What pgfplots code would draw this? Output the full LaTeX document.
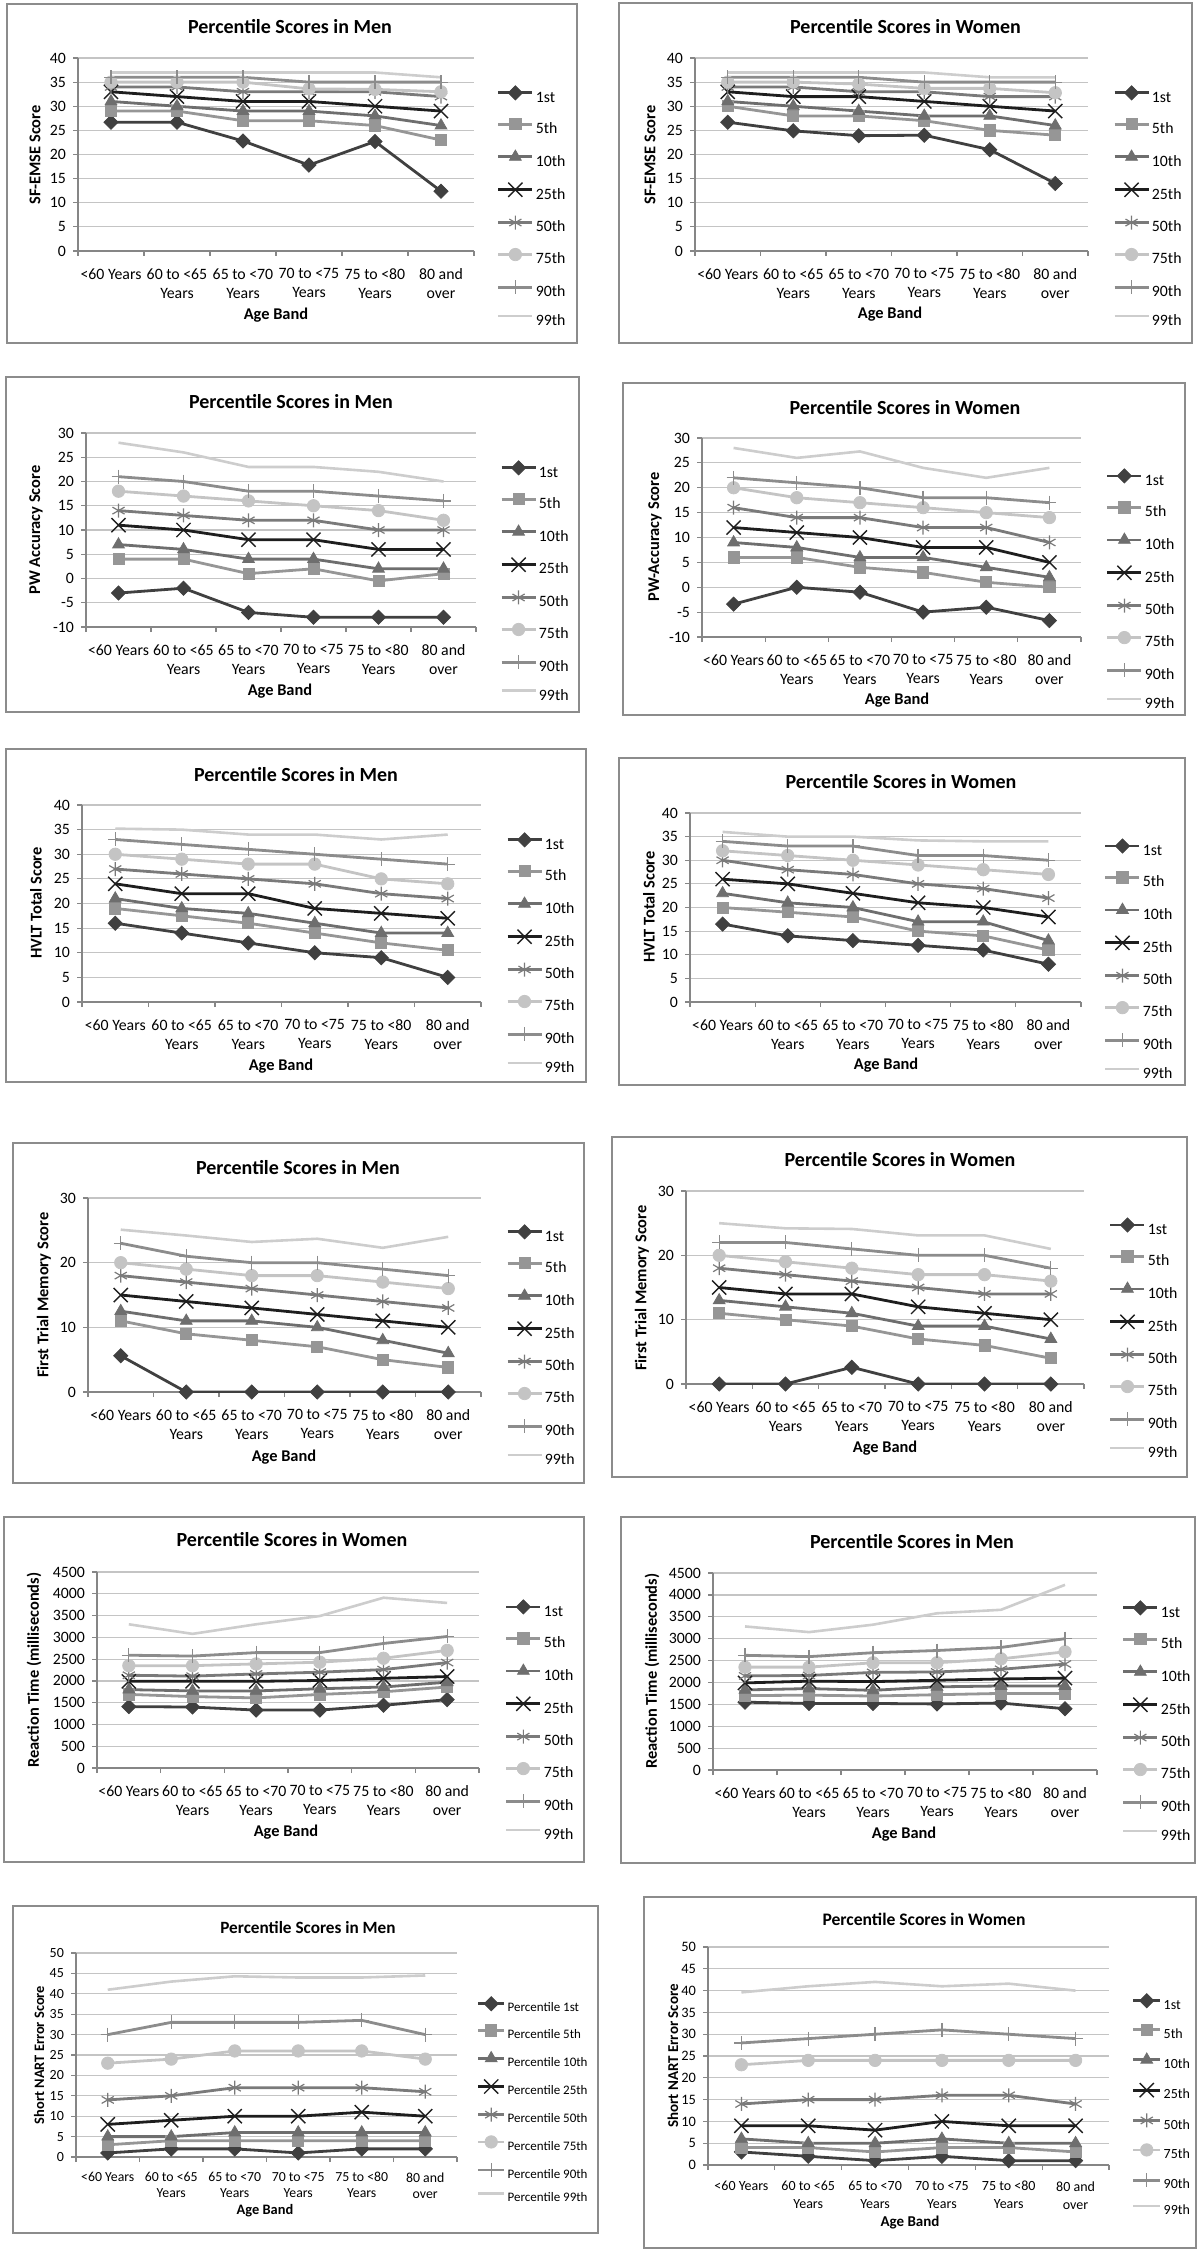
\documentclass[border=0pt]{standalone}
\usepackage{pgfplots}
\pgfplotsset{compat=1.18}
\usepackage{pgfplotstable}
\usepackage{fontspec}
\setmainfont{Carlito}

\definecolor{axc}{HTML}{868686}
\definecolor{grc}{HTML}{C4C4C4}
\definecolor{frc}{HTML}{8C8C8C}
\definecolor{c1}{HTML}{404040}
\definecolor{c5}{HTML}{969696}
\definecolor{c10}{HTML}{6E6E6E}
\definecolor{c25}{HTML}{1E1E1E}
\definecolor{c50}{HTML}{7A7A7A}
\definecolor{c75}{HTML}{C4C4C4}
\definecolor{c90}{HTML}{8C8C8C}
\definecolor{c99}{HTML}{CDCDCD}

\newcommand{\tkf}{\fontsize{7.9}{9.5}\selectfont}
\newcommand{\lgf}{\fontsize{7.9}{9.5}\selectfont}
\newcommand{\ttf}{\bfseries\fontsize{10}{12}\selectfont}
\newcommand{\lbf}{\bfseries\fontsize{8.2}{9.5}\selectfont}

\pgfplotsset{
  base/.style={
    scale only axis, anchor=south west,
    axis lines*=left,
    axis line style={draw=axc, line width=0.6pt},
    xmin=-0.5, xmax=5.5,
    xtick={-0.5,0.5,1.5,2.5,3.5,4.5,5.5},
    x tick label as interval,
    xticklabels={{<60 Years},{60 to <65\\Years},{65 to <70\\Years},{70 to <75\\Years},{75 to <80\\Years},{80 and\\over}},
    tick align=outside,
    major tick length=2.5pt,
    tick style={draw=axc, line width=0.6pt},
    ymajorgrids,
    grid style={draw=grc, line width=0.6pt},
    scaled y ticks=false,
    /pgf/number format/assume math mode=true,
    /pgf/number format/1000 sep={},
    yticklabel style={font=\tkf},
    xticklabel style={font=\tkf, align=center, yshift=-2.7pt},
    legend cell align=left,
    legend style={draw=none, fill=none, inner sep=0pt, outer sep=0pt, anchor=north west,
      row sep=6.75pt, column sep=1pt,
      nodes={inner sep=0pt, font=\lgf, text height=6pt, text depth=1.5pt}},
    legend image code/.code={\draw[mark repeat=2,mark phase=2,##1] plot coordinates {(0pt,2.4pt) (8.5pt,2.4pt) (17pt,2.4pt)};},
  },
  s1/.style={color=c1, line width=1.4pt, mark=square*, mark size=2.5pt, mark options={solid, rotate=45, line width=0.4pt}},
  s5/.style={color=c5, line width=1.4pt, mark=square*, mark size=2.8pt, mark options={solid, line width=0.4pt}},
  s10/.style={color=c10, line width=1.4pt, mark=triangle*, mark size=3.4pt, mark options={solid, line width=0.4pt}},
  s25/.style={color=c25, line width=1.4pt, mark=x, mark size=5pt, mark options={solid, line width=0.7pt}},
  s50/.style={color=c50, line width=1.4pt, mark=asterisk, mark size=3.5pt, mark options={solid, line width=0.6pt}},
  s75/.style={color=c75, line width=1.4pt, mark=*, mark size=3.1pt, mark options={solid, line width=0.4pt}},
  s90/.style={color=c90, line width=1.4pt, mark=+, mark size=3.5pt, mark options={solid, line width=0.6pt}},
  s99/.style={color=c99, line width=1.3pt, mark=none},
}

\newcommand{\allseries}[2]{%
  \addplot[s1] table[x=x,y=p1]{#1}; \addlegendentry{#21st}
  \addplot[s5] table[x=x,y=p5]{#1}; \addlegendentry{#25th}
  \addplot[s10] table[x=x,y=p10]{#1}; \addlegendentry{#210th}
  \addplot[s25] table[x=x,y=p25]{#1}; \addlegendentry{#225th}
  \addplot[s50] table[x=x,y=p50]{#1}; \addlegendentry{#250th}
  \addplot[s75] table[x=x,y=p75]{#1}; \addlegendentry{#275th}
  \addplot[s90] table[x=x,y=p90]{#1}; \addlegendentry{#290th}
  \addplot[s99] table[x=x,y=p99]{#1}; \addlegendentry{#299th}
}

% SF-EMSE, men
\pgfplotstableread{
x p1 p5 p10 p25 p50 p75 p90 p99
0 26.7 29 31 33 34 35 36 37
1 26.7 29 30 32 34 35 36 37
2 22.8 27 29 31 33 35 36 37
3 17.8 27 29 31 33 33.6 35 37
4 22.7 26 28 30 33 33.5 35 37
5 12.4 23 26 29 32 33 35 36
}\tA
% SF-EMSE, women
\pgfplotstableread{
x p1 p5 p10 p25 p50 p75 p90 p99
0 26.7 30 31 33 34 35 36 37
1 24.9 28 30 32 34 35 36 37
2 23.9 28 29 32 33 34.6 36 37
3 24 27 28 31 33 33.7 35 37
4 21 25 28 30 32 33.7 35 36
5 14 24 26 29 32 32.8 35 36
}\tB
% PW accuracy, men
\pgfplotstableread{
x p1 p5 p10 p25 p50 p75 p90 p99
0 -3 4 7 11 14 18 21 28
1 -2 4 6 10 13 17 20 26
2 -7 1 4 8 12 16 18 23
3 -8 2 4 8 12 15 18 23
4 -8 -0.5 2 6 10 14 17 22
5 -8 1 2 6 10 12 16 20
}\tC
% PW accuracy, women
\pgfplotstableread{
x p1 p5 p10 p25 p50 p75 p90 p99
0 -3.4 6 9 12 16 20 22 28
1 0 6 8 11 14 18 21 26
2 -1 4 6 10 14 17 20 27.3
3 -5 3 6 8 12 16 18 24
4 -4 1 4 8 12 15 18 22
5 -6.7 0 2 5 9 14 17 24
}\tD
% HVLT, men
\pgfplotstableread{
x p1 p5 p10 p25 p50 p75 p90 p99
0 16 19 21 24 27 30 33 35.2
1 14 17.5 19 22 26 29 32 35
2 12 16 18 22 25 28 31 34
3 10 14 16 19 24 28 30 34
4 9 12 14 18 22 25 29 33
5 5 10.5 14 17 21 24 28 34
}\tE
% HVLT, women
\pgfplotstableread{
x p1 p5 p10 p25 p50 p75 p90 p99
0 16.5 20 23 26 30 32 34 36
1 14 19 21 25 28 31 33 35
2 13 18 20 23 27 30 33 35
3 12 15 17 21 25 29 31 34.2
4 11 14 17 20 24 28 31 34
5 8 11 13 18 22 27 30 34
}\tF
% First trial memory, men
\pgfplotstableread{
x p1 p5 p10 p25 p50 p75 p90 p99
0 5.6 11 12.5 15 18 20 23 25.1
1 0 9 11 14 17 19 21 24.2
2 0 8 11 13 16 18 20 23.2
3 0 7 10 12 15 18 20 23.7
4 0 5 8 11 14 17 19 22.3
5 0 3.8 6 10 13 16 18 24
}\tG
% First trial memory, women
\pgfplotstableread{
x p1 p5 p10 p25 p50 p75 p90 p99
0 0 11 13 15 18 20 22 25
1 0 10 12 14 17 19 22 24.2
2 2.6 9 11 14 16 18 21 24.1
3 0 7 9 12 15 17 20 23.1
4 0 6 9 11 14 17 20 23.1
5 0 4 7 10 14 16 18 21
}\tH
% Reaction time, women
\pgfplotstableread{
x p1 p5 p10 p25 p50 p75 p90 p99
0 1410 1690 1800 1990 2130 2350 2590 3300
1 1400 1640 1770 1990 2110 2350 2570 3080
2 1330 1610 1770 1990 2160 2390 2650 3300
3 1330 1690 1820 2010 2200 2430 2650 3490
4 1440 1750 1860 2060 2260 2520 2860 3910
5 1570 1860 1970 2100 2420 2700 3020 3790
}\tI
% Reaction time, men
\pgfplotstableread{
x p1 p5 p10 p25 p50 p75 p90 p99
0 1550 1700 1830 1990 2150 2350 2620 3280
1 1520 1710 1860 2030 2160 2350 2590 3150
2 1520 1690 1820 2020 2230 2450 2680 3320
3 1510 1720 1900 2050 2240 2450 2730 3580
4 1530 1750 1920 2080 2300 2540 2800 3660
5 1400 1750 1920 2100 2420 2700 3000 4230
}\tJ
% Short NART, men
\pgfplotstableread{
x p1 p5 p10 p25 p50 p75 p90 p99
0 1 3 5 8 14 23 30 41
1 2 4 5 9 15 24 33 43
2 2 4 6 10 17 26 33 44.3
3 1 4 6 10 17 26 33 44
4 2 4 6 11 17 26 33.5 44
5 2 4 6 10 16 24 30 44.5
}\tK
% Short NART, women
\pgfplotstableread{
x p1 p5 p10 p25 p50 p75 p90 p99
0 3 4 6 9 14 23 28 39.6
1 2 4 5 9 15 24 29 41
2 1 3 5 8 15 24 30 42
3 2 4 6 10 16 24 31 41
4 1 4 5 9 16 24 30 41.6
5 1 3 5 9 14 24 29 40
}\tL

\begin{document}
\begin{tikzpicture}
\path[use as bounding box] (0pt,0pt) rectangle (600pt,-1126pt);

% ---------- frames ----------
\begin{scope}[draw=frc, line width=0.9pt]
\draw (3.5pt,-2pt) rectangle (288.5pt,-171.5pt);
\draw (309.5pt,-1.5pt) rectangle (596pt,-171.5pt);
\draw (3pt,-188.5pt) rectangle (289.5pt,-356pt);
\draw (311.5pt,-191.5pt) rectangle (592.5pt,-357.5pt);
\draw (3pt,-374.5pt) rectangle (293pt,-541pt);
\draw (309.5pt,-379pt) rectangle (592.5pt,-542.5pt);
\draw (6.5pt,-571.5pt) rectangle (292pt,-741.5pt);
\draw (306pt,-568.5pt) rectangle (593.5pt,-738.5pt);
\draw (2pt,-758.5pt) rectangle (292pt,-931pt);
\draw (310.5pt,-758.5pt) rectangle (597.5pt,-931.5pt);
\draw (6.5pt,-953pt) rectangle (299pt,-1116.5pt);
\draw (322pt,-948.5pt) rectangle (598pt,-1124pt);
\end{scope}

% ---------- titles ----------
\node[font=\ttf] at (145pt,-13.5pt) {Percentile Scores in Men};
\node[font=\ttf] at (452.75pt,-13.5pt) {Percentile Scores in Women};
\node[font=\ttf] at (145.5pt,-201pt) {Percentile Scores in Men};
\node[font=\ttf] at (452.5pt,-204pt) {Percentile Scores in Women};
\node[font=\ttf] at (148pt,-387.5pt) {Percentile Scores in Men};
\node[font=\ttf] at (450.5pt,-391pt) {Percentile Scores in Women};
\node[font=\ttf] at (149pt,-584pt) {Percentile Scores in Men};
\node[font=\ttf] at (450pt,-580pt) {Percentile Scores in Women};
\node[font=\ttf] at (146pt,-770pt) {Percentile Scores in Women};
\node[font=\ttf] at (456pt,-771pt) {Percentile Scores in Men};
\node[font=\bfseries\fontsize{8.6}{10}\selectfont] at (154pt,-963.5pt) {Percentile Scores in Men};
\node[font=\bfseries\fontsize{8.8}{10}\selectfont] at (462pt,-959.5pt) {Percentile Scores in Women};

% ---------- y labels ----------
\node[font=\lbf, rotate=90] at (17.5pt,-77.5pt) {SF-EMSE Score};
\node[font=\lbf, rotate=90] at (325pt,-77.5pt) {SF-EMSE Score};
\node[font=\lbf, rotate=90] at (18pt,-265pt) {PW Accuracy Score};
\node[font=\lbf, rotate=90] at (327.5pt,-268.5pt) {PW-Accuracy Score};
\node[font=\lbf, rotate=90] at (18pt,-451.5pt) {HVLT Total Score};
\node[font=\lbf, rotate=90] at (324.5pt,-453.5pt) {HVLT Total Score};
\node[font=\lbf, rotate=90] at (22pt,-647.5pt) {First Trial Memory Score};
\node[font=\lbf, rotate=90] at (321pt,-644pt) {First Trial Memory Score};
\node[font=\lbf, rotate=90] at (17pt,-835pt) {Reaction Time (milliseconds)};
\node[font=\lbf, rotate=90] at (326pt,-835.5pt) {Reaction Time (milliseconds)};
\node[font=\bfseries\fontsize{7.2}{8.5}\selectfont, rotate=90] at (19.5pt,-1027.5pt) {Short NART Error Score};
\node[font=\bfseries\fontsize{7.5}{8.5}\selectfont, rotate=90] at (336.5pt,-1028pt) {Short NART Error Score};

% ---------- x labels ----------
\node[font=\lbf] at (138pt,-157.5pt) {Age Band};
\node[font=\lbf] at (445pt,-157pt) {Age Band};
\node[font=\lbf] at (140pt,-345.5pt) {Age Band};
\node[font=\lbf] at (448.5pt,-350pt) {Age Band};
\node[font=\lbf] at (140.5pt,-533pt) {Age Band};
\node[font=\lbf] at (443pt,-532.5pt) {Age Band};
\node[font=\lbf] at (142pt,-728.5pt) {Age Band};
\node[font=\lbf] at (442.5pt,-724pt) {Age Band};
\node[font=\lbf] at (143pt,-916pt) {Age Band};
\node[font=\lbf] at (452pt,-917pt) {Age Band};
\node[font=\bfseries\fontsize{7.2}{8.5}\selectfont] at (132.5pt,-1105.5pt) {Age Band};
\node[font=\bfseries\fontsize{7.5}{8.5}\selectfont] at (455pt,-1111pt) {Age Band};

% ---------- row 1 ----------
\begin{axis}[base, at={(39pt,-125.5pt)}, width=198pt, height=96.5pt,
  ymin=0, ymax=40, ytick={0,5,...,40},
  legend style={at={(axis description cs:1.058,0.856)}}]
\allseries{\tA}{}
\end{axis}
\begin{axis}[base, at={(347.5pt,-125.5pt)}, width=196.5pt, height=96.5pt,
  ymin=0, ymax=40, ytick={0,5,...,40},
  legend style={at={(axis description cs:1.064,0.856)}}]
\allseries{\tB}{}
\end{axis}

% ---------- row 2 ----------
\begin{axis}[base, at={(43pt,-313.5pt)}, width=195pt, height=97pt,
  ymin=-10, ymax=30, ytick={-10,-5,...,30},
  legend style={at={(axis description cs:1.062,0.857)}}]
\allseries{\tC}{}
\end{axis}
\begin{axis}[base, at={(351pt,-318.5pt)}, width=189.5pt, height=99.5pt,
  ymin=-10, ymax=30, ytick={-10,-5,...,30},
  legend style={at={(axis description cs:1.066,0.845)}}]
\allseries{\tD}{}
\end{axis}

% ---------- row 3 ----------
\begin{axis}[base, at={(41pt,-501pt)}, width=199.5pt, height=98.5pt,
  ymin=0, ymax=40, ytick={0,5,...,40},
  legend style={at={(axis description cs:1.063,0.859)}}]
\allseries{\tE}{}
\end{axis}
\begin{axis}[base, at={(345pt,-501pt)}, width=195.5pt, height=94.5pt,
  ymin=0, ymax=40, ytick={0,5,...,40},
  legend style={at={(axis description cs:1.059,0.863)}}]
\allseries{\tF}{}
\end{axis}

% ---------- row 4 ----------
\begin{axis}[base, at={(44pt,-696pt)}, width=196.5pt, height=97pt,
  ymin=0, ymax=30, ytick={0,10,20,30},
  legend style={at={(axis description cs:1.064,0.862)}}]
\allseries{\tG}{}
\end{axis}
\begin{axis}[base, at={(343pt,-692pt)}, width=199pt, height=96.5pt,
  ymin=0, ymax=30, ytick={0,10,20,30},
  legend style={at={(axis description cs:1.063,0.861)}}]
\allseries{\tH}{}
\end{axis}

% ---------- row 5 ----------
\begin{axis}[base, at={(48.5pt,-884pt)}, width=191pt, height=98pt,
  ymin=0, ymax=4500, ytick={0,500,...,4500},
  legend style={at={(axis description cs:1.068,0.858)}}]
\allseries{\tI}{}
\end{axis}
\begin{axis}[base, at={(356.5pt,-885pt)}, width=192pt, height=98.5pt,
  ymin=0, ymax=4500, ytick={0,500,...,4500},
  legend style={at={(axis description cs:1.065,0.859)}}]
\allseries{\tJ}{}
\end{axis}

% ---------- row 6 ----------
\begin{axis}[base, at={(38pt,-1078.5pt)}, width=190.5pt, height=102pt,
  ymin=0, ymax=50, ytick={0,5,...,50},
  yticklabel style={font=\fontsize{7}{8}\selectfont},
  xticklabel style={font=\fontsize{6.9}{8}\selectfont, yshift=1pt},
  legend style={at={(axis description cs:1.052,0.786)}, row sep=5.15pt,
    nodes={font=\fontsize{6.5}{7.5}\selectfont, text height=5.3pt, text depth=1.3pt}},
  legend image code/.code={\draw[mark repeat=2,mark phase=2,#1] plot coordinates {(0pt,2.1pt) (6.5pt,2.1pt) (13pt,2.1pt)};}]
\allseries{\tK}{Percentile }
\end{axis}
\begin{axis}[base, at={(354pt,-1082.5pt)}, width=200.5pt, height=109pt,
  ymin=0, ymax=50, ytick={0,5,...,50},
  yticklabel style={font=\fontsize{7.2}{8}\selectfont},
  xticklabel style={font=\fontsize{7}{9}\selectfont, yshift=0.6pt},
  legend style={at={(axis description cs:1.057,0.786)}, row sep=5.9pt,
    nodes={font=\fontsize{7}{8}\selectfont, text height=5.5pt, text depth=1.4pt}},
  legend image code/.code={\draw[mark repeat=2,mark phase=2,#1] plot coordinates {(0pt,2.3pt) (6.75pt,2.3pt) (13.5pt,2.3pt)};}]
\allseries{\tL}{}
\end{axis}

\end{tikzpicture}
\end{document}
